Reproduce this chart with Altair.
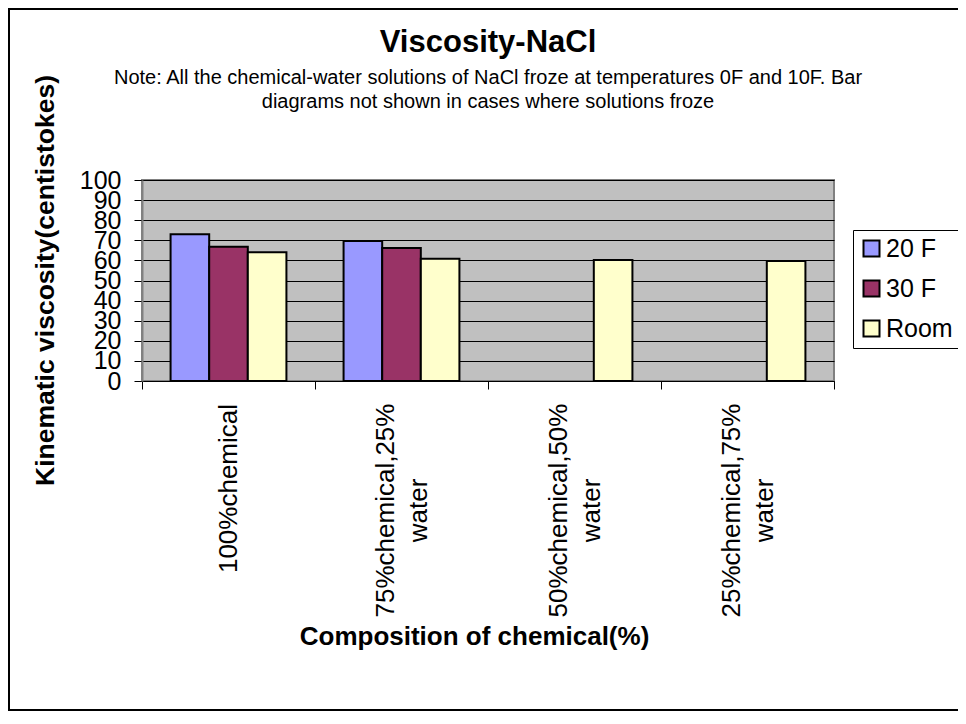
import altair as alt
import pandas as pd

# ---- data ----
categories = ["100%chemical", "75%chemical,25% water", "50%chemical,50% water", "25%chemical,75% water"]
series = ["20 F", "30 F", "Room"]
values_20f = [73.0, 69.7, None, None]
values_30f = [66.8, 66.2, None, None]
values_room = [64.0, 60.8, 60.2, 59.7]
colors = ["#9999FF", "#993366", "#FFFFCC"]
y_ticks = [0, 10, 20, 30, 40, 50, 60, 70, 80, 90, 100]

title_text = "Viscosity-NaCl"
subtitle_lines = [
    "Note: All the chemical-water solutions of NaCl froze at temperatures 0F and 10F. Bar",
    "diagrams not shown in cases where solutions froze",
]

rows = []
for s, vals in zip(series, [values_20f, values_30f, values_room]):
    for c, v in zip(categories, vals):
        if v is not None:
            rows.append({"composition": c, "series": s, "viscosity": v})
df = pd.DataFrame(rows)

FONT = "Liberation Sans"
W, H = 692, 201
PAD_L, PAD_T = 134, 172
TOTAL_W, TOTAL_H = 950, 704

TWO_LINE = "indexof(datum.label + '', ' ') >= 0"

bars = alt.Chart(df).mark_bar(stroke="black", strokeWidth=2).encode(
    x=alt.X(
        "composition:N",
        sort=categories,
        scale=alt.Scale(domain=categories, paddingInner=0, paddingOuter=0),
        axis=alt.Axis(
            title="Composition of chemical(%)",
            titleFontSize=26,
            titleFontWeight="bold",
            titleColor="black",
            titleX=332,
            titleY=242,
            titleAlign="center",
            titleBaseline="top",
            labelAngle=270,
            labelAlign="center",
            labelBaseline="middle",
            labelFontSize=26,
            labelColor="black",
            labelLimit=0,
            labelLineHeight=33,
            labelExpr="split(datum.label, ' ')",
            labelPadding={"condition": {"test": TWO_LINE, "value": 121}, "value": 99},
            labelOffset={"condition": {"test": TWO_LINE, "value": -16.5}, "value": 0},
            tickBand="extent",
            tickSize=8,
            tickColor="black",
            domainColor="black",
            grid=False,
        ),
    ),
    xOffset=alt.XOffset(
        "series:N",
        scale=alt.Scale(domain=series, paddingInner=0, paddingOuter=0.74),
    ),
    y=alt.Y(
        "viscosity:Q",
        scale=alt.Scale(domain=[0, 100], nice=False),
        axis=alt.Axis(
            title="Kinematic viscosity(centistokes)",
            titleFontSize=26.5,
            titleFontWeight="bold",
            titleColor="black",
            titleAngle=270,
            titleX=-89,
            titleY=100,
            titleAlign="center",
            titleBaseline="alphabetic",
            values=y_ticks,
            labelFontSize=25,
            labelColor="black",
            labelPadding=13,
            labelOverlap=False,
            labelFlush=False,
            tickSize=8,
            tickColor="black",
            domainColor="#808080",
            domainWidth=2,
            grid=True,
            gridColor="black",
            gridWidth=1,
        ),
    ),
    fill=alt.Fill(
        "series:N",
        scale=alt.Scale(domain=series, range=colors),
        legend=alt.Legend(
            title=None,
            orient="none",
            legendX=711,
            legendY=50,
            symbolType="square",
            symbolSize=256,
            symbolStrokeColor="black",
            symbolStrokeWidth=2,
            symbolOpacity=1,
            labelFontSize=25,
            labelColor="black",
            labelOffset=2,
            rowPadding=14,
            padding=6,
            strokeColor="black",
            fillColor="white",
        ),
    ),
)

frame = alt.Chart(alt.Data(values=[{}])).mark_rect(
    filled=False, stroke="black", strokeWidth=2
).encode(
    x=alt.value(-(PAD_L - 1)),
    y=alt.value(-(PAD_T - 1)),
    x2=alt.value(TOTAL_W),
    y2=alt.value(TOTAL_H - PAD_T - 2),
)

chart = alt.layer(frame, bars).properties(
    width=W,
    height=H,
    autosize=alt.AutoSizeParams(type="none"),
    padding={"left": PAD_L, "top": PAD_T, "right": TOTAL_W - PAD_L - W, "bottom": TOTAL_H - PAD_T - H},
    title=alt.TitleParams(
        text=title_text,
        subtitle=subtitle_lines,
        anchor="middle",
        fontSize=31,
        fontWeight="bold",
        color="black",
        subtitleFontSize=20,
        subtitleColor="black",
        subtitleLineHeight=24,
        subtitlePadding=9,
        offset=-105,
    ),
).configure(
    font=FONT,
    background="white",
).configure_view(
    fill="#C0C0C0",
    stroke="#808080",
    strokeWidth=2,
)

chart.save("out.html", embed_options={"renderer": "svg", "actions": False})
